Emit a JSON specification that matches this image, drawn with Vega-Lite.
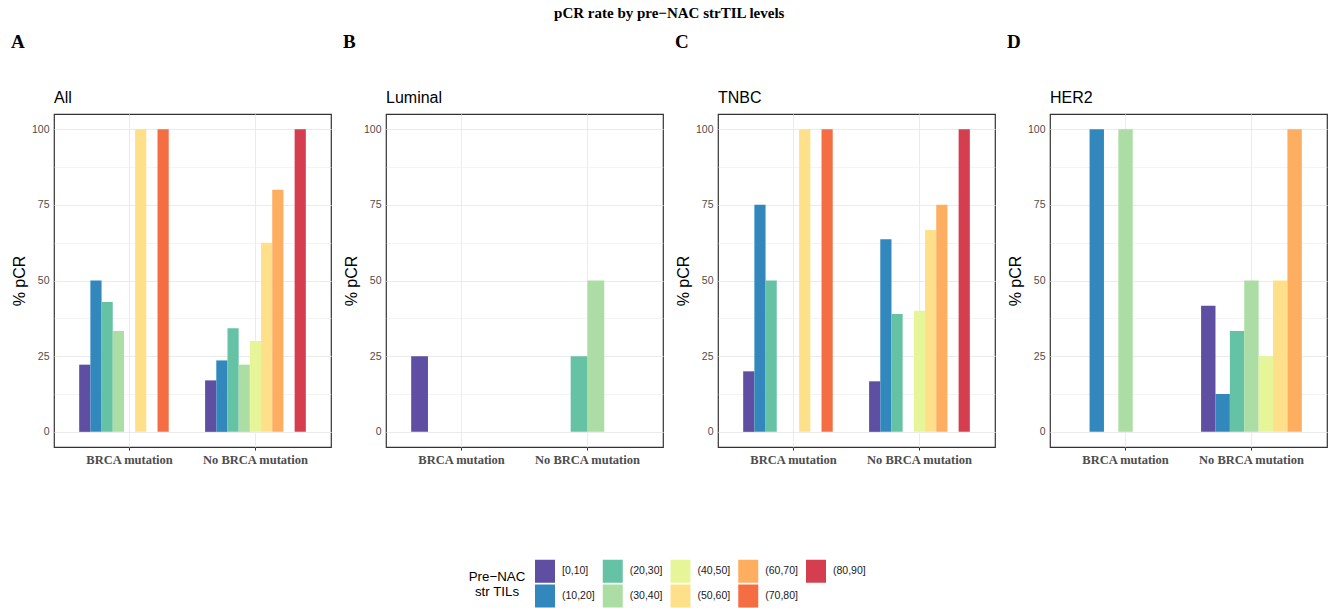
{
  "$schema": "https://vega.github.io/schema/vega-lite/v6.json",
  "padding": {"left": 10, "top": 6, "right": 0, "bottom": 0},
  "background": "white",
  "title": {"text": "pCR rate by pre−NAC strTIL levels", "anchor": "middle", "font": "Liberation Serif", "fontWeight": "bold", "fontSize": 15, "color": "#000000", "offset": 12},
  "datasets": {
    "d": [
      {"subtype": "All", "brca": "BRCA mutation", "til": "[0,10]", "pcr": 22.2},
      {"subtype": "All", "brca": "BRCA mutation", "til": "(10,20]", "pcr": 50},
      {"subtype": "All", "brca": "BRCA mutation", "til": "(20,30]", "pcr": 42.9},
      {"subtype": "All", "brca": "BRCA mutation", "til": "(30,40]", "pcr": 33.3},
      {"subtype": "All", "brca": "BRCA mutation", "til": "(50,60]", "pcr": 100},
      {"subtype": "All", "brca": "BRCA mutation", "til": "(70,80]", "pcr": 100},
      {"subtype": "All", "brca": "No BRCA mutation", "til": "[0,10]", "pcr": 17.0},
      {"subtype": "All", "brca": "No BRCA mutation", "til": "(10,20]", "pcr": 23.6},
      {"subtype": "All", "brca": "No BRCA mutation", "til": "(20,30]", "pcr": 34.2},
      {"subtype": "All", "brca": "No BRCA mutation", "til": "(30,40]", "pcr": 22.2},
      {"subtype": "All", "brca": "No BRCA mutation", "til": "(40,50]", "pcr": 30},
      {"subtype": "All", "brca": "No BRCA mutation", "til": "(50,60]", "pcr": 62.5},
      {"subtype": "All", "brca": "No BRCA mutation", "til": "(60,70]", "pcr": 80},
      {"subtype": "All", "brca": "No BRCA mutation", "til": "(80,90]", "pcr": 100},
      {"subtype": "Luminal", "brca": "BRCA mutation", "til": "[0,10]", "pcr": 25},
      {"subtype": "Luminal", "brca": "No BRCA mutation", "til": "(20,30]", "pcr": 25},
      {"subtype": "Luminal", "brca": "No BRCA mutation", "til": "(30,40]", "pcr": 50},
      {"subtype": "TNBC", "brca": "BRCA mutation", "til": "[0,10]", "pcr": 20},
      {"subtype": "TNBC", "brca": "BRCA mutation", "til": "(10,20]", "pcr": 75},
      {"subtype": "TNBC", "brca": "BRCA mutation", "til": "(20,30]", "pcr": 50},
      {"subtype": "TNBC", "brca": "BRCA mutation", "til": "(50,60]", "pcr": 100},
      {"subtype": "TNBC", "brca": "BRCA mutation", "til": "(70,80]", "pcr": 100},
      {"subtype": "TNBC", "brca": "No BRCA mutation", "til": "[0,10]", "pcr": 16.7},
      {"subtype": "TNBC", "brca": "No BRCA mutation", "til": "(10,20]", "pcr": 63.6},
      {"subtype": "TNBC", "brca": "No BRCA mutation", "til": "(20,30]", "pcr": 38.9},
      {"subtype": "TNBC", "brca": "No BRCA mutation", "til": "(40,50]", "pcr": 40},
      {"subtype": "TNBC", "brca": "No BRCA mutation", "til": "(50,60]", "pcr": 66.7},
      {"subtype": "TNBC", "brca": "No BRCA mutation", "til": "(60,70]", "pcr": 75},
      {"subtype": "TNBC", "brca": "No BRCA mutation", "til": "(80,90]", "pcr": 100},
      {"subtype": "HER2", "brca": "BRCA mutation", "til": "(10,20]", "pcr": 100},
      {"subtype": "HER2", "brca": "BRCA mutation", "til": "(30,40]", "pcr": 100},
      {"subtype": "HER2", "brca": "No BRCA mutation", "til": "[0,10]", "pcr": 41.7},
      {"subtype": "HER2", "brca": "No BRCA mutation", "til": "(10,20]", "pcr": 12.5},
      {"subtype": "HER2", "brca": "No BRCA mutation", "til": "(20,30]", "pcr": 33.3},
      {"subtype": "HER2", "brca": "No BRCA mutation", "til": "(30,40]", "pcr": 50},
      {"subtype": "HER2", "brca": "No BRCA mutation", "til": "(40,50]", "pcr": 25},
      {"subtype": "HER2", "brca": "No BRCA mutation", "til": "(50,60]", "pcr": 50},
      {"subtype": "HER2", "brca": "No BRCA mutation", "til": "(60,70]", "pcr": 100}
    ]
  },
  "data": {"name": "d"},
  "spacing": 10,
  "resolve": {"scale": {"x": "independent", "y": "independent", "xOffset": "independent", "color": "shared"}, "legend": {"color": "shared"}},
  "hconcat": [
    {
      "title": {"text": "A", "anchor": "start", "frame": "bounds", "font": "Liberation Serif", "fontWeight": "bold", "fontSize": 19, "color": "#000000", "offset": 37},
      "vconcat": [
        {
          "title": {"text": "All", "anchor": "start", "frame": "group", "font": "Liberation Sans", "fontWeight": "normal", "fontSize": 16, "color": "#000000", "offset": 8},
          "transform": [{"filter": "datum.subtype === 'All'"}],
          "width": 277, "height": 333,
          "mark": {"type": "bar"},
          "encoding": {
            "x": {"field": "brca", "type": "nominal", "sort": ["BRCA mutation", "No BRCA mutation"], "scale": {"domain": ["BRCA mutation", "No BRCA mutation"], "paddingInner": 0.2, "paddingOuter": 0.2}, "axis": {"title": null}},
            "xOffset": {"field": "til", "type": "nominal", "scale": {"domain": ["[0,10]", "(10,20]", "(20,30]", "(30,40]", "(40,50]", "(50,60]", "(60,70]", "(70,80]", "(80,90]"], "paddingInner": 0, "paddingOuter": 0}},
            "y": {"field": "pcr", "type": "quantitative", "title": "% pCR", "scale": {"domain": [-5, 105], "nice": false, "zero": false}, "axis": {"values": [0, 12.5, 25, 37.5, 50, 62.5, 75, 87.5, 100]}},
            "color": {"field": "til", "type": "nominal", "scale": {"domain": ["[0,10]", "(20,30]", "(40,50]", "(60,70]", "(80,90]", "(10,20]", "(30,40]", "(50,60]", "(70,80]"], "range": ["#5E4FA2", "#66C2A5", "#E6F598", "#FDAE61", "#D53E4F", "#3288BD", "#ABDDA4", "#FEE08B", "#F46D43"]}, "legend": {"title": ["Pre−NAC", "str TILs"]}}
          }
        }
      ]
    },
    {
      "title": {"text": "B", "anchor": "start", "frame": "bounds", "font": "Liberation Serif", "fontWeight": "bold", "fontSize": 19, "color": "#000000", "offset": 37},
      "vconcat": [
        {
          "title": {"text": "Luminal", "anchor": "start", "frame": "group", "font": "Liberation Sans", "fontWeight": "normal", "fontSize": 16, "color": "#000000", "offset": 8},
          "transform": [{"filter": "datum.subtype === 'Luminal'"}],
          "width": 277, "height": 333,
          "mark": {"type": "bar"},
          "encoding": {
            "x": {"field": "brca", "type": "nominal", "sort": ["BRCA mutation", "No BRCA mutation"], "scale": {"domain": ["BRCA mutation", "No BRCA mutation"], "paddingInner": 0.2, "paddingOuter": 0.2}, "axis": {"title": null}},
            "xOffset": {"field": "til", "type": "nominal", "scale": {"domain": ["[0,10]", "(10,20]", "(20,30]", "(30,40]", "(40,50]", "(50,60]"], "paddingInner": 0, "paddingOuter": 0}},
            "y": {"field": "pcr", "type": "quantitative", "title": "% pCR", "scale": {"domain": [-5, 105], "nice": false, "zero": false}, "axis": {"values": [0, 12.5, 25, 37.5, 50, 62.5, 75, 87.5, 100]}},
            "color": {"field": "til", "type": "nominal", "scale": {"domain": ["[0,10]", "(20,30]", "(40,50]", "(60,70]", "(80,90]", "(10,20]", "(30,40]", "(50,60]", "(70,80]"], "range": ["#5E4FA2", "#66C2A5", "#E6F598", "#FDAE61", "#D53E4F", "#3288BD", "#ABDDA4", "#FEE08B", "#F46D43"]}, "legend": {"title": ["Pre−NAC", "str TILs"]}}
          }
        }
      ]
    },
    {
      "title": {"text": "C", "anchor": "start", "frame": "bounds", "font": "Liberation Serif", "fontWeight": "bold", "fontSize": 19, "color": "#000000", "offset": 37},
      "vconcat": [
        {
          "title": {"text": "TNBC", "anchor": "start", "frame": "group", "font": "Liberation Sans", "fontWeight": "normal", "fontSize": 16, "color": "#000000", "offset": 8},
          "transform": [{"filter": "datum.subtype === 'TNBC'"}],
          "width": 277, "height": 333,
          "mark": {"type": "bar"},
          "encoding": {
            "x": {"field": "brca", "type": "nominal", "sort": ["BRCA mutation", "No BRCA mutation"], "scale": {"domain": ["BRCA mutation", "No BRCA mutation"], "paddingInner": 0.2, "paddingOuter": 0.2}, "axis": {"title": null}},
            "xOffset": {"field": "til", "type": "nominal", "scale": {"domain": ["[0,10]", "(10,20]", "(20,30]", "(30,40]", "(40,50]", "(50,60]", "(60,70]", "(70,80]", "(80,90]"], "paddingInner": 0, "paddingOuter": 0}},
            "y": {"field": "pcr", "type": "quantitative", "title": "% pCR", "scale": {"domain": [-5, 105], "nice": false, "zero": false}, "axis": {"values": [0, 12.5, 25, 37.5, 50, 62.5, 75, 87.5, 100]}},
            "color": {"field": "til", "type": "nominal", "scale": {"domain": ["[0,10]", "(20,30]", "(40,50]", "(60,70]", "(80,90]", "(10,20]", "(30,40]", "(50,60]", "(70,80]"], "range": ["#5E4FA2", "#66C2A5", "#E6F598", "#FDAE61", "#D53E4F", "#3288BD", "#ABDDA4", "#FEE08B", "#F46D43"]}, "legend": {"title": ["Pre−NAC", "str TILs"]}}
          }
        }
      ]
    },
    {
      "title": {"text": "D", "anchor": "start", "frame": "bounds", "font": "Liberation Serif", "fontWeight": "bold", "fontSize": 19, "color": "#000000", "offset": 37},
      "vconcat": [
        {
          "title": {"text": "HER2", "anchor": "start", "frame": "group", "font": "Liberation Sans", "fontWeight": "normal", "fontSize": 16, "color": "#000000", "offset": 8},
          "transform": [{"filter": "datum.subtype === 'HER2'"}],
          "width": 277, "height": 333,
          "mark": {"type": "bar"},
          "encoding": {
            "x": {"field": "brca", "type": "nominal", "sort": ["BRCA mutation", "No BRCA mutation"], "scale": {"domain": ["BRCA mutation", "No BRCA mutation"], "paddingInner": 0.2, "paddingOuter": 0.2}, "axis": {"title": null}},
            "xOffset": {"field": "til", "type": "nominal", "scale": {"domain": ["[0,10]", "(10,20]", "(20,30]", "(30,40]", "(40,50]", "(50,60]", "(60,70]"], "paddingInner": 0, "paddingOuter": 0}},
            "y": {"field": "pcr", "type": "quantitative", "title": "% pCR", "scale": {"domain": [-5, 105], "nice": false, "zero": false}, "axis": {"values": [0, 12.5, 25, 37.5, 50, 62.5, 75, 87.5, 100]}},
            "color": {"field": "til", "type": "nominal", "scale": {"domain": ["[0,10]", "(20,30]", "(40,50]", "(60,70]", "(80,90]", "(10,20]", "(30,40]", "(50,60]", "(70,80]"], "range": ["#5E4FA2", "#66C2A5", "#E6F598", "#FDAE61", "#D53E4F", "#3288BD", "#ABDDA4", "#FEE08B", "#F46D43"]}, "legend": {"title": ["Pre−NAC", "str TILs"]}}
          }
        }
      ]
    }
  ],
  "config": {
    "font": "Liberation Sans",
    "view": {"stroke": "#333333", "strokeWidth": 1.2},
    "axisX": {
      "labelFont": "Liberation Serif", "labelFontWeight": "bold", "labelFontSize": 12.5, "labelColor": "#4D4D4D", "labelAngle": 0, "labelPadding": 3,
      "domain": false, "ticks": true, "tickColor": "#333333", "tickSize": 3, "grid": true, "gridColor": "#EBEBEB", "gridWidth": 1, "bandPosition": 0.5
    },
    "axisY": {
      "labelExpr": "datum.value % 25 === 0 ? datum.label : ''",
      "labelOverlap": false,
      "labelFontSize": 10.5, "labelColor": "#4D4D4D", "labelPadding": 2,
      "domain": false, "tickColor": "#333333", "tickSize": 3,
      "tickOpacity": {"condition": {"test": "datum.value % 25 === 0", "value": 1}, "value": 0},
      "grid": true, "gridColor": "#EBEBEB",
      "gridWidth": {"condition": {"test": "datum.value % 25 === 0", "value": 1.1}, "value": 0.55},
      "titleFontSize": 16, "titleFontWeight": "normal", "titleColor": "#000000", "titlePadding": 4
    },
    "legend": {
      "orient": "none", "legendX": 415, "legendY": 447, "columns": 5, "direction": "horizontal",
      "symbolType": "M-1,-1.15H1V1.15H-1Z", "symbolSize": 400, "symbolStrokeWidth": 0, "symbolOpacity": 1,
      "rowPadding": 1, "columnPadding": 7.75, "labelOffset": 7, "labelFontSize": 10.5, "labelColor": "#1A1A1A",
      "titleOrient": "left", "titleFontSize": 13.3, "titleFontWeight": "normal", "titleColor": "#000000", "titlePadding": -19,
      "titleAnchor": "middle", "titleBaseline": "middle", "titleAlign": "center", "padding": 0
    }
  }
}
